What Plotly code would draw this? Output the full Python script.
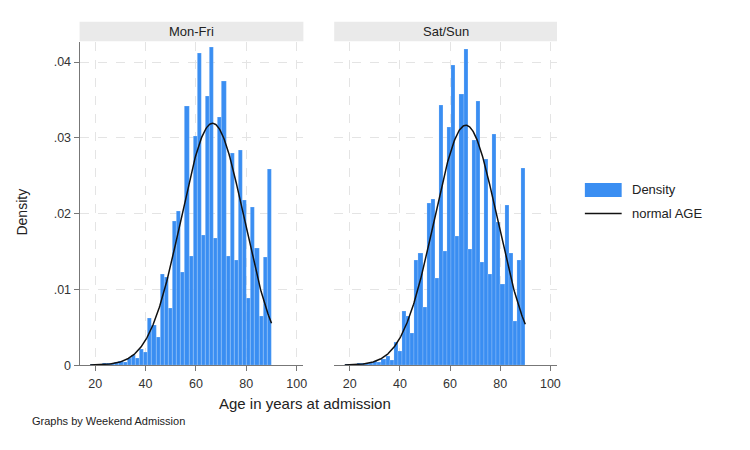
import numpy as np
import plotly.graph_objects as go

# ---------------- data ----------------
BIN_START = 18.0
BIN_WIDTH = 72.0 / 44
panels = ["Mon-Fri", "Sat/Sun"]

dens_monfri = [0.0001, 0.0001, 0.00015, 0.0002, 0.0003, 0.0002, 0.0004, 0.0005, 0.0004, 0.0009,
               0.0013, 0.0009, 0.0021, 0.0017, 0.0062, 0.0053, 0.0037, 0.0120, 0.0116, 0.0075,
               0.0190, 0.0203, 0.0123, 0.0341, 0.0144, 0.0302, 0.0412, 0.0171, 0.0355, 0.0419,
               0.0168, 0.0327, 0.0374, 0.0144, 0.0279, 0.0138, 0.0284, 0.0217, 0.0088, 0.0208,
               0.0154, 0.0065, 0.0142, 0.0258]
dens_satsun = [0.0001, 0.0001, 0.0001, 0.0002, 0.0002, 0.0002, 0.0003, 0.0005, 0.0004, 0.0008,
               0.0012, 0.0007, 0.0030, 0.0019, 0.0071, 0.0065, 0.0042, 0.0138, 0.0148, 0.0077,
               0.0213, 0.0219, 0.0115, 0.0343, 0.0150, 0.0314, 0.0396, 0.0170, 0.0358, 0.0417,
               0.0153, 0.0297, 0.0348, 0.0136, 0.0272, 0.0120, 0.0304, 0.0189, 0.0107, 0.0211,
               0.0147, 0.0058, 0.0138, 0.0260]

# normal AGE overlay parameters (mean, sd) per panel, drawn over data range
normal_mean = [66.6, 66.3]
normal_sd = [12.5, 12.6]
age_min, age_max = 18, 90

x_ticks = [20, 40, 60, 80, 100]
y_ticks = [0, 0.01, 0.02, 0.03, 0.04]
y_tick_labels = ["0", ".01", ".02", ".03", ".04"]

# ---------------- style ----------------
W, H = 750, 450
BAR_COLOR = "#3a8ef2"
FONT = "Liberation Sans, Arial, sans-serif"
TXT = "#222222"
GRID = "#e4e4e4"
AXIS = "#777777"

def px(x):
    return x / W

def py(y):
    return 1 - y / H

doms = [[px(80), px(305)], [px(336), px(560)]]
ydom = [py(371), py(43)]
xrange = [13.8, 102.65]
yrange = [0, (371 - 43) / 7700]

fig = go.Figure()
all_dens = [dens_monfri, dens_satsun]
for i in range(2):
    dens = all_dens[i]
    centers = [BIN_START + BIN_WIDTH * (k + 0.5) for k in range(len(dens))]
    xa = "x" if i == 0 else "x2"
    ya = "y" if i == 0 else "y2"
    fig.add_trace(go.Bar(
        x=centers, y=dens, width=BIN_WIDTH, xaxis=xa, yaxis=ya,
        marker=dict(color=BAR_COLOR, line=dict(color="rgba(255,255,255,0.35)", width=0.5)),
        showlegend=False, name="Density"))
    xs = np.linspace(age_min, age_max, 300)
    m, s = normal_mean[i], normal_sd[i]
    ys = np.exp(-0.5 * ((xs - m) / s) ** 2) / (s * np.sqrt(2 * np.pi))
    fig.add_trace(go.Scatter(
        x=xs, y=ys, mode="lines", xaxis=xa, yaxis=ya,
        line=dict(color="#111111", width=1.5), showlegend=False, name="normal AGE"))

axis_common = dict(
    range=xrange, tickvals=x_ticks, ticks="outside", ticklen=5, tickcolor=AXIS,
    ticklabelstandoff=2,
    showline=True, linecolor=AXIS, linewidth=1, showgrid=True, gridcolor=GRID,
    griddash="dash", gridwidth=1, zeroline=False,
    tickfont=dict(family=FONT, size=12.5, color="#333333"), fixedrange=True)

yaxis_common = dict(
    range=yrange, tickvals=y_ticks, showgrid=True, gridcolor=GRID, griddash="dash",
    gridwidth=1, zeroline=False, fixedrange=True, domain=ydom)

fig.update_layout(
    width=W, height=H, autosize=False,
    margin=dict(l=0, r=0, t=0, b=0),
    paper_bgcolor="white", plot_bgcolor="white",
    bargap=0, barmode="overlay",
    font=dict(family=FONT, color=TXT),
    xaxis=dict(domain=doms[0], anchor="y", **axis_common),
    xaxis2=dict(domain=doms[1], anchor="y2", **axis_common),
    yaxis=dict(anchor="x", ticktext=y_tick_labels, ticks="outside", ticklen=5,
               tickcolor=AXIS, showline=True, linecolor=AXIS, linewidth=1,
               tickfont=dict(family=FONT, size=12.5, color="#333333"), **yaxis_common),
    yaxis2=dict(anchor="x2", showticklabels=False, showline=False, ticks="", **yaxis_common),
)

shapes = []
annotations = []
# strip headers
for i in range(2):
    shapes.append(dict(type="rect", xref="paper", yref="paper",
                       x0=doms[i][0], x1=doms[i][1], y0=py(42), y1=py(22),
                       fillcolor="#eaeaea", line=dict(width=0), layer="below"))
    annotations.append(dict(xref="paper", yref="paper", x=(doms[i][0] + doms[i][1]) / 2,
                            y=py(32), text=panels[i], showarrow=False,
                            font=dict(family=FONT, size=13, color=TXT),
                            xanchor="center", yanchor="middle"))

# axis titles
annotations.append(dict(xref="paper", yref="paper", x=px(22), y=py(215), text="Density",
                        textangle=-90, showarrow=False,
                        font=dict(family=FONT, size=14, color=TXT),
                        xanchor="center", yanchor="middle"))
annotations.append(dict(xref="paper", yref="paper", x=px(307), y=py(410),
                        text="Age in years at admission", showarrow=False,
                        font=dict(family=FONT, size=15, color=TXT),
                        xanchor="center", yanchor="middle"))
annotations.append(dict(xref="paper", yref="paper", x=px(30), y=py(428),
                        text="Graphs by Weekend Admission", showarrow=False,
                        font=dict(family=FONT, size=11, color=TXT),
                        xanchor="left", yanchor="middle"))

# legend (drawn)
shapes.append(dict(type="rect", xref="paper", yref="paper",
                   x0=px(588), x1=px(625), y0=py(200), y1=py(186),
                   fillcolor=BAR_COLOR, line=dict(width=0)))
shapes.append(dict(type="line", xref="paper", yref="paper",
                   x0=px(588), x1=px(625), y0=py(217), y1=py(217),
                   line=dict(color="#111111", width=1.5)))
annotations.append(dict(xref="paper", yref="paper", x=px(633), y=py(193), text="Density",
                        showarrow=False, font=dict(family=FONT, size=13, color=TXT),
                        xanchor="left", yanchor="middle"))
annotations.append(dict(xref="paper", yref="paper", x=px(633), y=py(217), text="normal AGE",
                        showarrow=False, font=dict(family=FONT, size=13, color=TXT),
                        xanchor="left", yanchor="middle"))

fig.update_layout(shapes=shapes, annotations=annotations)
fig.write_html("out.html")
